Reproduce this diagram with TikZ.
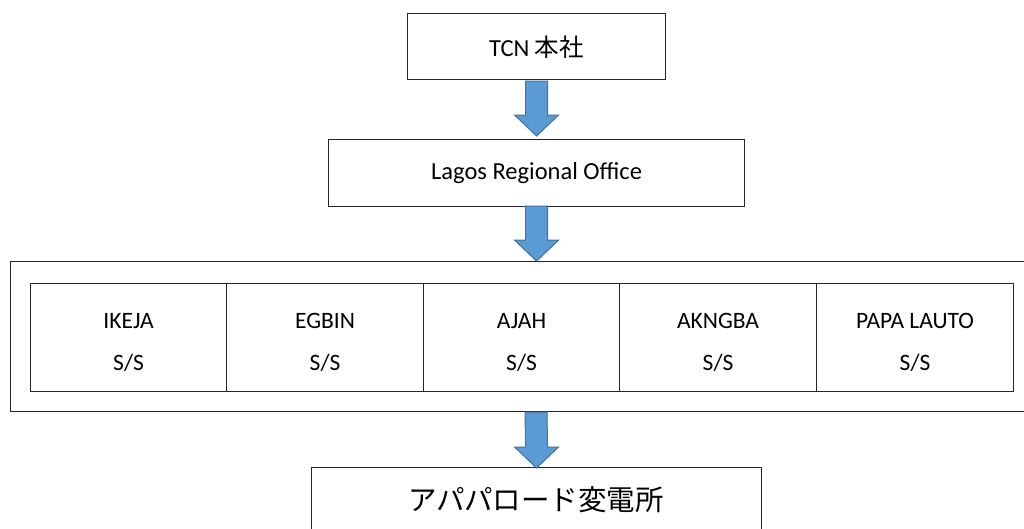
\documentclass[tikz,border=0pt]{standalone}
\usepackage{fontspec}
\setmainfont{Carlito}
\newfontfamily\jpfont{Noto Sans CJK JP}
\usetikzlibrary{calc}
\definecolor{arrowfill}{HTML}{5B9BD5}
\definecolor{arrowline}{HTML}{41719C}
\tikzset{
  boxframe/.style={draw=black!85, line width=1.1pt, fill=white, inner sep=0pt, anchor=north west},
  blockarrow/.style={fill=arrowfill, draw=arrowline, line width=1pt, line join=miter},
  celltext/.style={font=\fontsize{23.5}{26}\selectfont, align=center}
}
\begin{document}
\begin{tikzpicture}[x=1pt,y=-1pt]
\useasboundingbox (0,0) rectangle (1024,528);
% top box
\node[boxframe, minimum width=258pt, minimum height=66pt] (top) at (407,13) {};
\node[font=\fontsize{24.5}{28}\selectfont] (toptext) at ($(top.center)+(0,1)$) {TCN {\jpfont 本社}};
% Lagos box
\node[boxframe, minimum width=416pt, minimum height=67pt] (lagos) at (328,139) {};
\node[font=\fontsize{24.5}{28}\selectfont] (lagostext) at (lagos.center) {Lagos Regional Office};
% big frame
\node[boxframe, minimum width=1030pt, minimum height=150pt] (frame) at (10,261) {};
% cells
\node[boxframe, minimum width=196pt, minimum height=108pt] (c1) at (30,283) {};
\node[boxframe, minimum width=197pt, minimum height=108pt] (c2) at (226,283) {};
\node[boxframe, minimum width=196pt, minimum height=108pt] (c3) at (423,283) {};
\node[boxframe, minimum width=197pt, minimum height=108pt] (c4) at (619,283) {};
\node[boxframe, minimum width=197pt, minimum height=108pt] (c5) at (816,283) {};
\foreach \c/\t in {c1/IKEJA, c2/EGBIN, c3/AJAH, c4/AKNGBA, c5/PAPA LAUTO}{
  \node[celltext] (\c n) at ($(\c.center)+(0,-17)$) {\t};
  \node[celltext] (\c s) at ($(\c.center)+(0,25)$) {S/S};
}
% bottom box
\node[boxframe, minimum width=450pt, minimum height=80pt] (bottom) at (311,467) {};
\node[font=\jpfont\fontsize{28.5}{32}\selectfont] (bottomtext) at (536,500) {アパパロード変電所};
% block arrows
\newcommand\blkarrow[2]{%
  \draw[blockarrow] ($(#1)+(-11,0)$) -- ($(#1)+(11,0)$) -- ($(#2)+(11,-21)$) -- ($(#2)+(22,-21)$)
    -- (#2) -- ($(#2)+(-22,-21)$) -- ($(#2)+(-11,-21)$) -- cycle;}
\coordinate (a1s) at ($(top.south)+(0,1)$);
\coordinate (a1t) at ($(lagos.north)+(0,-3)$);
\coordinate (a2s) at ($(lagos.south)+(0,-1)$);
\coordinate (a2t) at ($(lagos.south)+(0,54)$);
\coordinate (a3s) at (536,412);
\coordinate (a3t) at ($(bottom.north)+(0,1)$);
\blkarrow{a1s}{a1t}
\blkarrow{a2s}{a2t}
\blkarrow{a3s}{a3t}
\end{tikzpicture}
\end{document}
